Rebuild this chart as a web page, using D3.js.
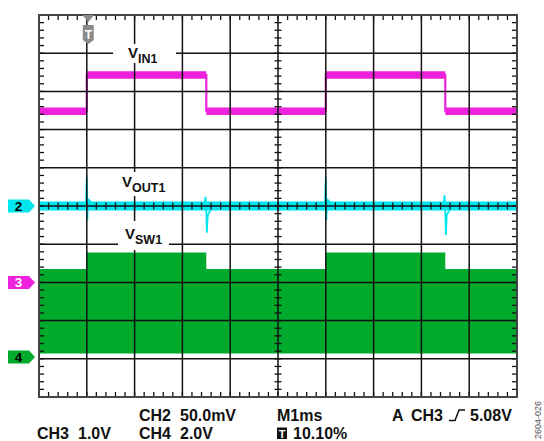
<!DOCTYPE html>
<html>
<head>
<meta charset="utf-8">
<script src="https://cdn.jsdelivr.net/npm/d3@7"></script>
<style>
body{margin:0;background:#fff}
svg{display:block;font-family:"Liberation Sans",Arial,sans-serif;font-weight:bold}
</style>
</head>
<body>
<svg id="scope" width="544" height="441"></svg>
<script>
//----------data (time in ms, trigger at 0)----------
var vinTime  = [-1, 0, 2.5, 5, 7.5, 9];
var vinVolts = [4.48, 5.43, 4.48, 5.43, 4.48, 4.48];
var vinNoise = 0.1;

var voutTime = [-1, -0.02, 0, 0.012, 0.025, 0.1, 0.3, 0.6,
                2.46, 2.485, 2.5, 2.512, 2.53, 2.6, 2.8,
                4.98, 5, 5.012, 5.025, 5.1, 5.3, 5.6,
                7.46, 7.485, 7.5, 7.512, 7.53, 7.6, 7.8, 9];
var voutMv   = [0, 0, 38, -18, 9, 4, 2, 0,
                0, 12, -8, -35, -12, -4, 0,
                0, 38, -18, 9, 4, 2, 0,
                0, 14, -8, -38, -12, -4, 0, 0];
var voutNoise = 6;

var swTime   = [-1, 0, 2.5, 5, 7.5, 9];
var swTop    = [4.6, 5.46, 4.6, 5.46, 4.6, 4.6];
var swBottom = [0.18, 0.18, 0.18, 0.18, 0.18, 0.18];

var chLabels  = ["2", "3", "4"];
var chOffsets = [0, -2, -3.95];      // divisions
var chPerDiv  = [50, 1, 2];          // mV, V, V
var chColors  = ["#00e6ef", "#ee22dd", "#00aa2d"];
var chInk     = ["#000", "#fff", "#000"];

var gridTimes = d3.range(-1, 9.5, 1);
var gridDivs  = d3.range(-5, 5.5, 1);
var minorTimes = d3.range(-1, 9.001, 0.2);
var minorDivs  = d3.range(-5, 5.001, 0.2);

var infoText = {ch2: ["CH2", "50.0mV"], ch3: ["CH3", "1.0V"], ch4: ["CH4", "2.0V"],
                time: "M1ms", trig: ["A", "CH3", "5.08V"], pos: "10.10%"};

//----------scales----------
var svg = d3.select("#scope");
var xScale = d3.scaleLinear().domain([-1, 9]).range([39, 517]);
var yDiv = d3.scaleLinear().domain([-5, 5]).range([397, 15]);
var chY = function (ch, v) { return yDiv(chOffsets[ch] + v / chPerDiv[ch]); };

//----------traces----------
var sw = swTime.map(function (t, i) { return {t: t, top: swTop[i], bot: swBottom[i]}; });
svg.append("path").datum(sw)
  .attr("fill", chColors[2])
  .attr("d", d3.area().curve(d3.curveStepAfter)
    .x(function (d) { return xScale(d.t); })
    .y0(function (d) { return chY(2, d.bot); })
    .y1(function (d) { return chY(2, d.top); }));

var vin = vinTime.map(function (t, i) { return {t: t, v: vinVolts[i]}; });
svg.append("path").datum(vin)
  .attr("fill", chColors[1])
  .attr("d", d3.area().curve(d3.curveStepAfter)
    .x(function (d) { return xScale(d.t); })
    .y0(function (d) { return chY(1, d.v - vinNoise); })
    .y1(function (d) { return chY(1, d.v + vinNoise); }));
svg.append("path").datum(vin)
  .attr("fill", "none").attr("stroke", chColors[1]).attr("stroke-width", 2.2)
  .attr("d", d3.line().curve(d3.curveStepAfter)
    .x(function (d) { return xScale(d.t); })
    .y(function (d) { return chY(1, d.v); }));

var vout = voutTime.map(function (t, i) { return {t: t, v: voutMv[i]}; });
svg.append("path").datum(xScale.domain())
  .attr("fill", chColors[0])
  .attr("d", d3.area()
    .x(function (d) { return xScale(d); })
    .y0(chY(0, -voutNoise))
    .y1(chY(0, voutNoise)));
svg.append("path").datum(vout)
  .attr("fill", "none").attr("stroke", chColors[0]).attr("stroke-width", 1.8)
  .attr("d", d3.line()
    .x(function (d) { return xScale(d.t); })
    .y(function (d) { return chY(0, d.v); }));

//----------graticule----------
var grid = svg.append("g").attr("stroke", "#111").attr("stroke-width", 1.5);
grid.selectAll(".vg").data(gridTimes.slice(1, -1)).enter().append("line")
  .attr("x1", function (d) { return xScale(d); }).attr("x2", function (d) { return xScale(d); })
  .attr("y1", yDiv(5)).attr("y2", yDiv(-5));
grid.selectAll(".hg").data(gridDivs.slice(1, -1)).enter().append("line")
  .attr("y1", function (d) { return yDiv(d); }).attr("y2", function (d) { return yDiv(d); })
  .attr("x1", xScale(-1)).attr("x2", xScale(9));

var ticks = svg.append("g").attr("stroke", "#111").attr("stroke-width", 1.3);
var xMid = xScale(4), yMid = yDiv(0);
minorTimes.forEach(function (t) {
  var x = xScale(t);
  ticks.append("line").attr("x1", x).attr("x2", x).attr("y1", yDiv(5)).attr("y2", yDiv(5) + 5);
  ticks.append("line").attr("x1", x).attr("x2", x).attr("y1", yDiv(-5)).attr("y2", yDiv(-5) - 5);
  ticks.append("line").attr("x1", x).attr("x2", x).attr("y1", yMid - 3.5).attr("y2", yMid + 3.5);
});
minorDivs.forEach(function (d) {
  var y = yDiv(d);
  ticks.append("line").attr("y1", y).attr("y2", y).attr("x1", xScale(-1)).attr("x2", xScale(-1) + 5);
  ticks.append("line").attr("y1", y).attr("y2", y).attr("x1", xScale(9)).attr("x2", xScale(9) - 5);
  ticks.append("line").attr("y1", y).attr("y2", y).attr("x1", xMid - 3.5).attr("x2", xMid + 3.5);
});

svg.append("rect")
  .attr("x", xScale(-1)).attr("y", yDiv(5))
  .attr("width", xScale(9) - xScale(-1)).attr("height", yDiv(-5) - yDiv(5))
  .attr("fill", "none").attr("stroke", "#444").attr("stroke-width", 2);

//----------trace names----------
var names = [
  {main: "V", sub: "IN1",  x: 128, y: 58,  box: [113, 44, 63, 19]},
  {main: "V", sub: "OUT1", x: 122, y: 187, box: [117, 172, 53, 24]},
  {main: "V", sub: "SW1",  x: 125, y: 239, box: [118, 221, 51, 29]}
];
names.forEach(function (n) {
  svg.append("rect").attr("x", n.box[0]).attr("y", n.box[1])
    .attr("width", n.box[2]).attr("height", n.box[3]).attr("fill", "#fff");
  var t = svg.append("text").attr("x", n.x).attr("y", n.y).attr("font-size", 15).attr("fill", "#111");
  t.append("tspan").text(n.main);
  t.append("tspan").attr("dy", 4.5).attr("font-size", 12.5).text(n.sub);
});

//----------channel markers----------
chLabels.forEach(function (c, i) {
  var y = yDiv(chOffsets[i]);
  svg.append("path")
    .attr("d", "M8," + (y - 6.5) + "H29L35," + y + "L29," + (y + 6.5) + "H8Z")
    .attr("fill", chColors[i]);
  svg.append("text").attr("x", 18.5).attr("y", y + 4.8)
    .attr("text-anchor", "middle").attr("font-size", 13.5).attr("fill", chInk[i]).text(c);
});

//----------trigger marker----------
var tx = xScale(0) + 1.5;
var trig = svg.append("g").attr("fill", "#8a8a8a");
trig.append("path").attr("d", "M" + (tx - 6) + ",15H" + (tx + 6) + "L" + tx + ",22Z");
trig.append("path").attr("d", "M" + (tx - 5.5) + ",25H" + (tx + 5.5) + "V40L" + tx + ",44L" + (tx - 5.5) + ",40Z");
svg.append("text").attr("x", tx).attr("y", 38.5).attr("text-anchor", "middle")
  .attr("font-size", 12).attr("fill", "#fff").text("T");

//----------readout----------
var put = function (s, x, y) {
  svg.append("text").attr("x", x).attr("y", y).attr("font-size", 16).attr("fill", "#111").text(s);
};
var line1 = 421, line2 = 439;
put(infoText.ch2[0], 139, line1); put(infoText.ch2[1], 180, line1);
put(infoText.time, 277, line1);
put(infoText.trig[0], 392, line1); put(infoText.trig[1], 411, line1);
svg.append("path").attr("d", "M449," + (line1 - 0.5) + "H455L459," + (line1 - 11) + "H465")
  .attr("fill", "none").attr("stroke", "#111").attr("stroke-width", 1.5);
put(infoText.trig[2], 470, line1);
put(infoText.ch3[0], 37, line2); put(infoText.ch3[1], 78, line2);
put(infoText.ch4[0], 139, line2); put(infoText.ch4[1], 180, line2);
svg.append("rect").attr("x", 277).attr("y", line2 - 11.5).attr("width", 10).attr("height", 11.5).attr("fill", "#111");
svg.append("text").attr("x", 282).attr("y", line2 - 1.5).attr("text-anchor", "middle")
  .attr("font-size", 11).attr("fill", "#fff").text("T");
put(infoText.pos, 293, line2);

svg.append("text").attr("transform", "translate(541,439) rotate(-90)")
  .attr("font-size", 9).attr("font-weight", "normal").attr("fill", "#555").text("2604-026");
</script>
</body>
</html>
